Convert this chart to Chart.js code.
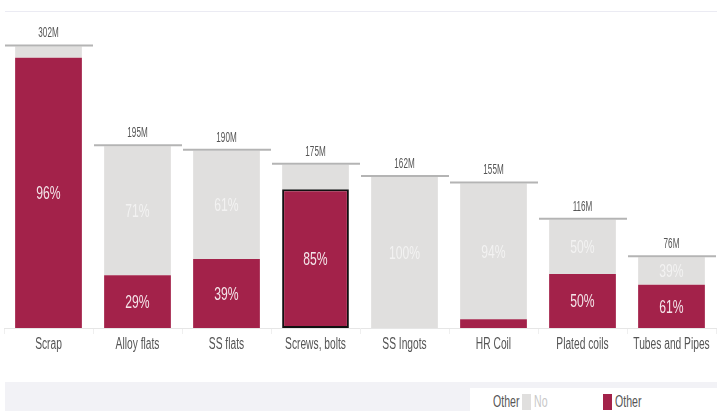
<!DOCTYPE html>
<html lang="en">
<head>
  <meta charset="UTF-8" />
  <title>Stacked share by category</title>
  <style>
    body {
      margin: 0;
      background: #fff;
      font-family: 'Liberation Sans', Arial, sans-serif;
      overflow: hidden;
    }
    .wrap {
      position: relative;
      width: 717px;
      height: 411px;
    }
    .topline {
      position: absolute;
      left: 5px; right: 0; top: 11px;
      border-top: 1px solid #ebebf3;
    }
    .chart-box {
      position: absolute;
      left: 0; top: 0;
      width: 717px;
      height: 380px;
    }
    .band {
      position: absolute;
      left: 5px; right: 0; top: 382px; bottom: 0;
      background: #f2f2f6;
    }
    .legend {
      position: absolute;
      left: 470px; right: 0; top: 388px; bottom: 0;
      background: #fff;
      font-size: 16px;
      color: #555;
    }
    .legend span { position: absolute; top: 5px; }
    .legend .txt { transform: scaleX(0.66); transform-origin: left center; }
    .legend .sw { top: 6px; width: 9px; height: 16px; }
  </style>
</head>
<body>
  <div class="wrap">
    <div class="topline"></div>
    <div class="chart-box"><canvas id="chart"></canvas></div>
    <div class="band"></div>
    <div class="legend">
      <span class="txt" style="left:23px">Other</span>
      <span class="sw" style="left:52px;background:#e0dfde"></span>
      <span class="txt" style="left:64px;color:#c8c8c8">No</span>
      <span class="sw" style="left:133px;background:#a3224a"></span>
      <span class="txt" style="left:145px">Other</span>
    </div>
  </div>

  <script src="https://cdn.jsdelivr.net/npm/chart.js"></script>
  <script>
    const categories = ['Scrap', 'Alloy flats', 'SS flats', 'Screws, bolts', 'SS Ingots', 'HR Coil', 'Plated coils', 'Tubes and Pipes'];
    const totals = [302, 195, 190, 175, 162, 155, 116, 76];   // in millions
    const otherPct = [96, 29, 39, 85, 0, 6, 50, 61];
    const noPct = [4, 71, 61, 15, 100, 94, 50, 39];

    const RED = '#a3224a';
    const GREY = '#e0dfde';
    const FONT = "'Liberation Sans', Arial, sans-serif";

    const otherVals = totals.map((t, i) => t * otherPct[i] / 100);
    const noVals = totals.map((t, i) => t * noPct[i] / 100);

    // selected bar gets the black outline
    const selected = 3;

    // the source uses a very condensed face, so squeeze text horizontally
    function narrowText(ctx, text, x, y, size, color, sx) {
      ctx.save();
      ctx.translate(x, y);
      ctx.scale(sx, 1);
      ctx.font = size + 'px ' + FONT;
      ctx.fillStyle = color;
      ctx.textAlign = 'center';
      ctx.textBaseline = 'middle';
      ctx.fillText(text, 0, 0);
      ctx.restore();
    }

    const labelsPlugin = {
      id: 'labels',
      afterDatasetsDraw(chart) {
        const ctx = chart.ctx;
        const xs = chart.scales.x;
        const ys = chart.scales.y;
        const half = (chart.chartArea.right - chart.chartArea.left) / categories.length / 2;
        ctx.save();

        totals.forEach((t, i) => {
          const cx = xs.getPixelForValue(i);
          const y = ys.getPixelForValue(t);
          // total line over the column
          ctx.strokeStyle = '#b4b4b4';
          ctx.lineWidth = 2;
          ctx.beginPath();
          ctx.moveTo(cx - half + 1, y - 1);
          ctx.lineTo(cx + half, y - 1);
          ctx.stroke();
          narrowText(ctx, t + 'M', cx, y - 13, 14, '#555', 0.58);
          // category label under axis
          narrowText(ctx, categories[i], cx, 345, 16, '#555', 0.64);
        });

        // percent labels inside segments
        const pcts = [otherPct, noPct];
        const colors = ['rgba(255,255,255,0.88)', 'rgba(255,255,255,0.6)'];
        chart.data.datasets.forEach((ds, d) => {
          chart.getDatasetMeta(d).data.forEach((bar, i) => {
            const p = pcts[d][i];
            if (p < 20) return;
            narrowText(ctx, p + '%', bar.x, (bar.y + bar.base) / 2 + 1, 19, colors[d], 0.64);
          });
        });
        ctx.restore();
      }
    };

    new Chart(document.getElementById('chart'), {
      type: 'bar',
      data: {
        labels: categories,
        datasets: [
          {
            label: 'Other',
            data: otherVals,
            backgroundColor: RED,
            borderColor: '#111',
            borderWidth: categories.map((c, i) => i === selected ? 2 : 0),
            borderSkipped: false,
            barPercentage: 0.75,
            categoryPercentage: 1
          },
          {
            label: 'No',
            data: noVals,
            backgroundColor: GREY,
            borderWidth: 0,
            barPercentage: 0.75,
            categoryPercentage: 1
          }
        ]
      },
      options: {
        responsive: true,
        maintainAspectRatio: false,
        animation: false,
        layout: { padding: { left: 4, right: 1, top: 11, bottom: 46 } },
        plugins: {
          legend: { display: false },
          tooltip: { enabled: false }
        },
        scales: {
          x: {
            stacked: true,
            grid: {
              offset: true,
              drawOnChartArea: false,
              tickLength: 6,
              color: '#efefef'
            },
            border: { color: '#e6e6e6' },
            ticks: { display: false, autoSkip: false }
          },
          y: {
            stacked: true,
            display: false,
            min: 0,
            max: 340
          }
        }
      },
      plugins: [labelsPlugin]
    });
  </script>
</body>
</html>
